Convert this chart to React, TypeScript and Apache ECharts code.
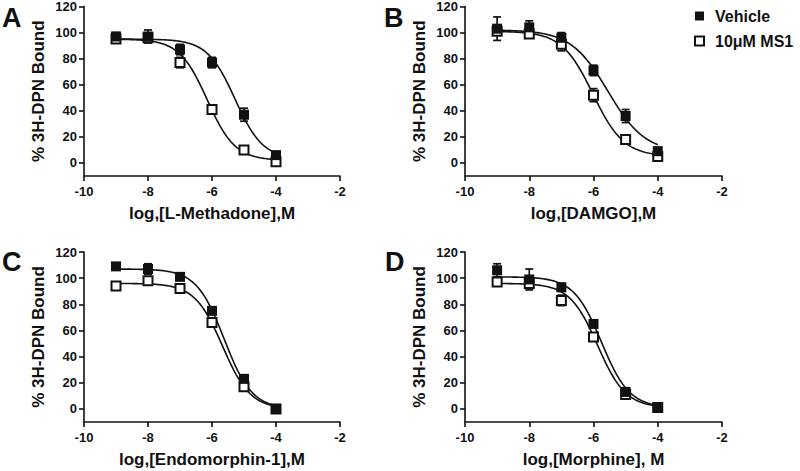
import React, { useEffect, useRef } from "react";
import * as echarts from "echarts";

// log concentrations (M)
const concentrations = [-9, -8, -7, -6, -5, -4];
const panelLetters = ["A", "B", "C", "D"];
const xAxisNames = [
  "log,[L-Methadone],M",
  "log,[DAMGO],M",
  "log,[Endomorphin-1],M",
  "log,[Morphine], M",
];
const yAxisName = "% 3H-DPN Bound";
const yTickValues = [0, 20, 40, 60, 80, 100, 120];
const legendNames = ["Vehicle", "10\u03bcM MS1"];

// Panel A – L-Methadone
const vehicleA = [97, 97, 87, 77, 37, 6];
const vehicleErrA = [3, 5, 4, 4, 5, 2];
const ms1A = [95, 96, 77, 41, 10, 1];
const ms1ErrA = [2, 3, 4, 2, 2, 2];
// Panel B – DAMGO
const vehicleB = [103, 104, 96, 71, 36, 9];
const vehicleErrB = [9, 5, 4, 4, 5, 3];
const ms1B = [101, 99, 91, 52, 18, 5];
const ms1ErrB = [3, 3, 5, 5, 2, 2];
// Panel C – Endomorphin-1
const vehicleC = [109, 107, 101, 75, 23, 0];
const vehicleErrC = [2, 4, 2, 2, 2, 1];
const ms1C = [94, 98, 92, 66, 17, 0];
const ms1ErrC = [3, 2, 2, 2, 2, 1];
// Panel D – Morphine
const vehicleD = [106, 99, 93, 65, 13, 1];
const vehicleErrD = [5, 8, 3, 2, 2, 1];
const ms1D = [97, 96, 83, 55, 11, 1];
const ms1ErrD = [2, 3, 4, 2, 2, 1];

// fitted one-site competition curves: [top, bottom, logIC50, hill]
const fitVehicleA = [95, 3, -5.28, 1];
const fitMs1A = [95, 2, -6.15, 1];
const fitVehicleB = [102, 8, -5.55, 0.75];
const fitMs1B = [101, 5, -6.02, 0.9];
const fitVehicleC = [107, 0, -5.62, 1];
const fitMs1C = [96, 0, -5.67, 1];
const fitVehicleD = [101, 1, -5.75, 1];
const fitMs1D = [96, 1, -5.87, 1];

const vehicleMeans = [vehicleA, vehicleB, vehicleC, vehicleD];
const vehicleErrs = [vehicleErrA, vehicleErrB, vehicleErrC, vehicleErrD];
const ms1Means = [ms1A, ms1B, ms1C, ms1D];
const ms1Errs = [ms1ErrA, ms1ErrB, ms1ErrC, ms1ErrD];
const vehicleFits = [fitVehicleA, fitVehicleB, fitVehicleC, fitVehicleD];
const ms1Fits = [fitMs1A, fitMs1B, fitMs1C, fitMs1D];

const FONT = "'Liberation Sans', Arial, Helvetica, sans-serif";
const INK = "#111";

function curvePoints(p: number[]) {
  const [top, bottom, logIC50, hill] = p;
  const pts: number[][] = [];
  const x0 = concentrations[0];
  const x1 = concentrations[concentrations.length - 1];
  const n = 120;
  for (let i = 0; i <= n; i++) {
    const x = x0 + ((x1 - x0) * i) / n;
    const y = bottom + (top - bottom) / (1 + Math.pow(10, hill * (x - logIC50)));
    pts.push([x, y]);
  }
  return pts;
}

const grids = [
  { left: 84, top: 6, width: 256, height: 170 },
  { left: 465, top: 6, width: 257, height: 170 },
  { left: 84, top: 252, width: 256, height: 170 },
  { left: 465, top: 252, width: 257, height: 170 },
];
const letterPos = [
  [2, 4],
  [384, 4],
  [2, 248],
  [385, 248],
];

export default function App() {
  const ref = useRef<HTMLDivElement>(null);
  useEffect(() => {
    if (!ref.current) return;
    const chart = echarts.init(ref.current, null, { renderer: "svg" });

    const xAxes: any[] = [];
    const yAxes: any[] = [];
    const series: any[] = [];

    grids.forEach((g, i) => {
      xAxes.push({
        gridIndex: i,
        type: "value",
        min: -10,
        max: -2,
        interval: 2,
        name: xAxisNames[i],
        nameLocation: "middle",
        nameGap: 29,
        nameTextStyle: { fontFamily: FONT, fontWeight: "bold", fontSize: 17, color: INK },
        axisLine: { onZero: false, lineStyle: { color: INK, width: 1.6 } },
        axisTick: { show: true, length: 5, lineStyle: { color: INK, width: 1.6 } },
        axisLabel: { fontFamily: FONT, fontWeight: "bold", fontSize: 13, color: INK, margin: 9 },
        splitLine: { show: false },
      });
      yAxes.push({
        gridIndex: i,
        type: "value",
        min: -10,
        max: 120,
        name: yAxisName,
        nameLocation: "middle",
        nameGap: 37,
        nameTextStyle: { fontFamily: FONT, fontWeight: "bold", fontSize: 17, color: INK },
        axisLine: { show: true, lineStyle: { color: INK, width: 1.6 } },
        axisTick: { show: true, length: 5, customValues: yTickValues, lineStyle: { color: INK, width: 1.6 } },
        axisLabel: {
          fontFamily: FONT,
          fontWeight: "bold",
          fontSize: 13,
          color: INK,
          margin: 7,
          customValues: yTickValues,
        },
        splitLine: { show: false },
      });

      const lineStyle = { color: INK, width: 1.6 };
      series.push({
        type: "line",
        xAxisIndex: i,
        yAxisIndex: i,
        data: curvePoints(vehicleFits[i]),
        showSymbol: false,
        symbol: "none",
        lineStyle,
        silent: true,
        z: 2,
      });
      series.push({
        type: "line",
        xAxisIndex: i,
        yAxisIndex: i,
        data: curvePoints(ms1Fits[i]),
        showSymbol: false,
        symbol: "none",
        lineStyle,
        silent: true,
        z: 2,
      });

      const errData: number[][] = [];
      concentrations.forEach((c, k) => {
        errData.push([c, vehicleMeans[i][k], vehicleErrs[i][k]]);
        errData.push([c, ms1Means[i][k], ms1Errs[i][k]]);
      });
      series.push({
        type: "custom",
        xAxisIndex: i,
        yAxisIndex: i,
        data: errData,
        z: 3,
        silent: true,
        renderItem: (params: any, api: any) => {
          const x = api.value(0);
          const m = api.value(1);
          const e = api.value(2);
          const hi = api.coord([x, m + e]);
          const lo = api.coord([x, m - e]);
          const hw = 4;
          const style = { stroke: INK, lineWidth: 1.7 };
          return {
            type: "group",
            children: [
              { type: "line", shape: { x1: hi[0], y1: hi[1], x2: lo[0], y2: lo[1] }, style },
              { type: "line", shape: { x1: hi[0] - hw, y1: hi[1], x2: hi[0] + hw, y2: hi[1] }, style },
              { type: "line", shape: { x1: lo[0] - hw, y1: lo[1], x2: lo[0] + hw, y2: lo[1] }, style },
            ],
          };
        },
      });

      series.push({
        type: "scatter",
        name: legendNames[1],
        xAxisIndex: i,
        yAxisIndex: i,
        data: concentrations.map((c, k) => [c, ms1Means[i][k]]),
        symbol: "rect",
        symbolSize: 9,
        itemStyle: { color: "#fff", borderColor: INK, borderWidth: 2, opacity: 1 },
        emphasis: { disabled: true },
        z: 4,
      });
      series.push({
        type: "scatter",
        name: legendNames[0],
        xAxisIndex: i,
        yAxisIndex: i,
        data: concentrations.map((c, k) => [c, vehicleMeans[i][k]]),
        symbol: "rect",
        symbolSize: 10,
        itemStyle: { color: INK, opacity: 1 },
        emphasis: { disabled: true },
        z: 5,
      });
    });

    const graphics: any[] = panelLetters.map((t, i) => ({
      type: "text",
      left: letterPos[i][0],
      top: letterPos[i][1],
      style: {
        text: t,
        fontFamily: FONT,
        fontWeight: "bold",
        fontSize: 27,
        fill: INK,
      },
    }));

    chart.setOption({
      animation: false,
      backgroundColor: "#fff",
      grid: grids.map((g) => ({ ...g, containLabel: false })),
      xAxis: xAxes,
      yAxis: yAxes,
      series,
      legend: {
        orient: "vertical",
        left: 689,
        top: 3,
        itemWidth: 9,
        itemHeight: 9,
        itemGap: 9,
        selectedMode: false,
        textStyle: { fontFamily: FONT, fontWeight: "bold", fontSize: 16, color: INK, padding: [0, 0, 0, 6] },
        data: [
          { name: legendNames[0], icon: "rect", itemStyle: { color: INK, opacity: 1 } },
          {
            name: legendNames[1],
            icon: "rect",
            itemStyle: { color: "#fff", borderColor: INK, borderWidth: 2, opacity: 1 },
          },
        ],
      },
      graphic: graphics,
    });

    return () => chart.dispose();
  }, []);

  return (
    <div
      ref={ref}
      style={{ position: "fixed", left: 0, top: 0, width: 800, height: 471, background: "#fff" }}
    />
  );
}
